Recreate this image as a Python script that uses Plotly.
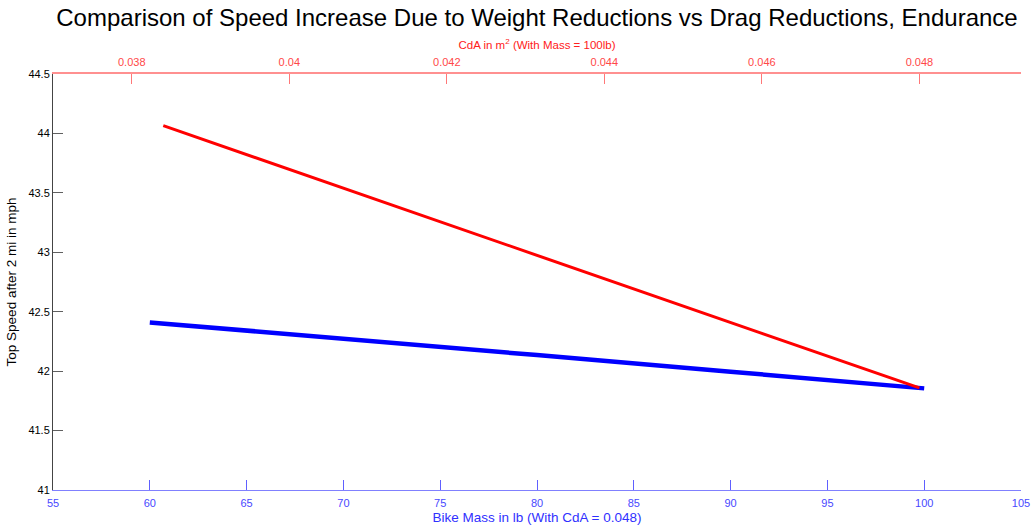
import plotly.graph_objects as go

# Bike mass sweep (CdA fixed at 0.048)
mass_lb = [60, 70, 80, 90, 100]
speed_mass = [42.41, 42.275, 42.135, 41.995, 41.855]

# CdA sweep (mass fixed at 100 lb)
cda_m2 = [0.0384, 0.040, 0.042, 0.044, 0.046, 0.048]
speed_cda = [44.065, 43.696, 43.237, 42.778, 42.318, 41.859]

mass_ticks = [55, 60, 65, 70, 75, 80, 85, 90, 95, 100, 105]
cda_ticks = [0.038, 0.040, 0.042, 0.044, 0.046, 0.048]
cda_tick_text = ["0.038", "0.04", "0.042", "0.044", "0.046", "0.048"]
speed_ticks = [41, 41.5, 42, 42.5, 43, 43.5, 44, 44.5]

FONT = "Liberation Sans, Arial, sans-serif"

fig = go.Figure()

fig.add_trace(go.Scatter(
    x=mass_lb, y=speed_mass, mode="lines", xaxis="x", yaxis="y",
    line=dict(color="#0000ff", width=4.5), showlegend=False,
))
fig.add_trace(go.Scatter(
    x=cda_m2, y=speed_cda, mode="lines", xaxis="x2", yaxis="y",
    line=dict(color="#ff0000", width=3), showlegend=False,
))

fig.update_layout(
    width=1032, height=527,
    margin=dict(l=53, r=11, t=74, b=37, autoexpand=False),
    paper_bgcolor="white", plot_bgcolor="white",
    font=dict(family=FONT, size=11, color="#000000"),
    title=dict(
        text="Comparison of Speed Increase Due to Weight Reductions vs Drag Reductions, Endurance",
        x=0.5, xref="paper", xanchor="center",
        y=1 - 18 / 527, yref="container", yanchor="middle",
        font=dict(family=FONT, size=24, color="#000000"),
    ),
    xaxis=dict(
        range=[55, 105], tickvals=mass_ticks, ticktext=[str(v) for v in mass_ticks],
        ticks="inside", ticklen=10, tickwidth=1, tickcolor="#6060ff",
        showline=True, linecolor="#8080ff", linewidth=1,
        showgrid=False, zeroline=False, automargin=False,
        ticklabelstandoff=3,
        tickfont=dict(family=FONT, size=11, color="#4848ff"),
        title=dict(text="Bike Mass in lb (With CdA = 0.048)", standoff=4,
                   font=dict(family=FONT, size=13.5, color="#3030ff")),
    ),
    xaxis2=dict(
        range=[0.0370, 0.04929], overlaying="x", side="top", anchor="y",
        tickvals=cda_ticks, ticktext=cda_tick_text,
        ticks="inside", ticklen=10, tickwidth=1, tickcolor="#ff7878",
        showline=True, linecolor="#ff9090", linewidth=1.5,
        showgrid=False, zeroline=False, automargin=False,
        ticklabelstandoff=2,
        tickfont=dict(family=FONT, size=11, color="#ff4848"),
        title=dict(text="CdA in m<sup>2</sup> (With Mass = 100lb)", standoff=4,
                   font=dict(family=FONT, size=11.5, color="#ff2020")),
    ),
    yaxis=dict(
        range=[41, 44.5], tickvals=speed_ticks,
        ticktext=["41", "41.5", "42", "42.5", "43", "43.5", "44", "44.5"],
        ticks="inside", ticklen=10, tickwidth=1, tickcolor="#606060",
        showline=True, linecolor="#444444", linewidth=1,
        showgrid=False, zeroline=False, automargin=False,
        tickfont=dict(family=FONT, size=11, color="#000000"),
        title=dict(text="Top Speed after 2 mi in mph", standoff=8,
                   font=dict(family=FONT, size=13.5, color="#000000")),
    ),
)

fig.write_html("out.html")
